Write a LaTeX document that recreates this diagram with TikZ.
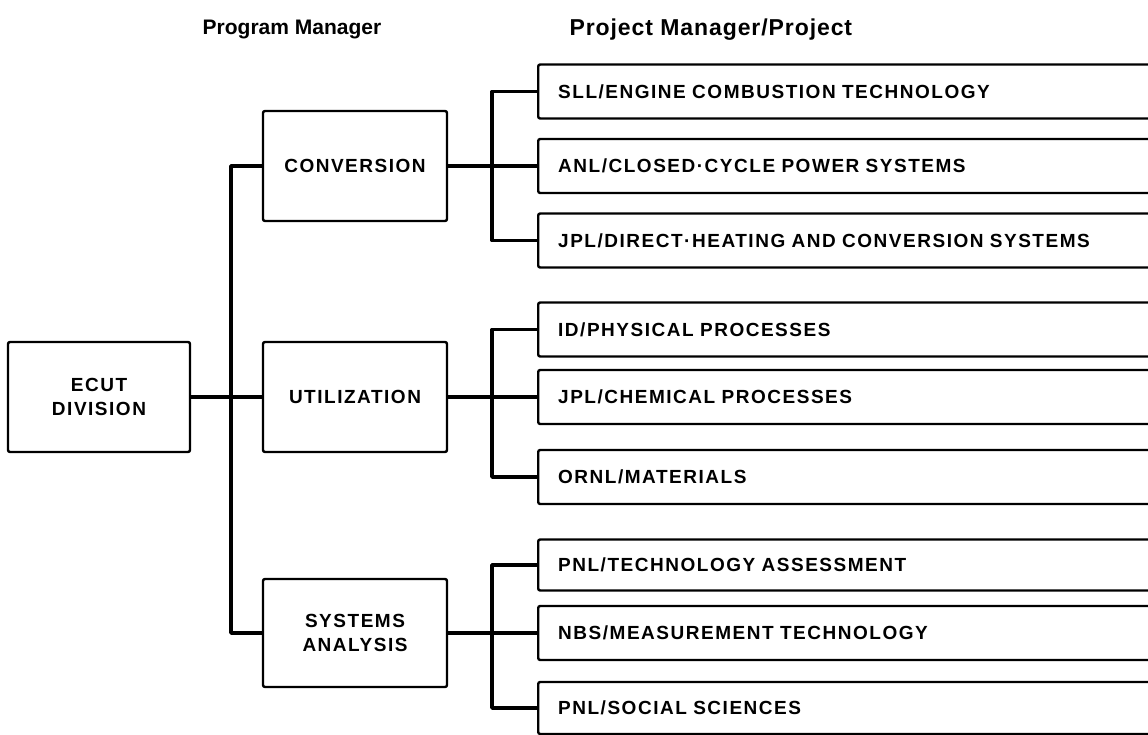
\documentclass[tikz,border=0pt]{standalone}
\usepackage{fontspec}
\setmainfont{Liberation Sans}
\newfontfamily\lblfont{Liberation Sans}[LetterSpace=8]
\newfontfamily\wideheadfont{Liberation Sans}[LetterSpace=4]
\begin{document}
\begin{tikzpicture}[x=1pt,y=-1pt,
  box/.style={draw, line width=2.4pt, rounded corners=2pt, inner sep=0pt,
    font=\lblfont\bfseries\fontsize{19}{23.5}\selectfont},
  mid/.style={box, align=center, minimum width=184pt, minimum height=110pt},
  proj/.style={box, anchor=west, minimum height=54pt, text width=660pt,
    inner xsep=20pt, align=left},
  conn/.style={line width=3.4pt, line join=round},
  head/.style={font=\bfseries\fontsize{21}{25}\selectfont}]
\useasboundingbox (0,0) rectangle (1148,735);
\clip (0,0) rectangle (1148,735);
\fill[white] (0,0) rectangle (1148,735);

% headers
\node[head] (h1) at (292,30) {Program Manager};
\node[head, anchor=west, font=\wideheadfont\bfseries\fontsize{23}{27}\selectfont] (h2) at (566,30) {Project Manager/Project};

% left and middle column
\node[mid, minimum width=182pt] (ecut) at (99,397) {ECUT\\DIVISION};
\node[mid] (conv) at (355,166) {CONVERSION};
\node[mid] (util) at (355,397) {UTILIZATION};
\node[mid, minimum height=108pt] (sysa) at (355,633) {SYSTEMS\\ANALYSIS};

% right column
\node[proj] (c1) at (537,91.5) {SLL/ENGINE COMBUSTION TECHNOLOGY};
\node[proj] (c2) at (537,166) {ANL/CLOSED·CYCLE POWER SYSTEMS};
\node[proj] (c3) at (537,240.5) {JPL/DIRECT·HEATING AND CONVERSION SYSTEMS};
\node[proj] (u1) at (537,329.5) {ID/PHYSICAL PROCESSES};
\node[proj] (u2) at (537,397) {JPL/CHEMICAL PROCESSES};
\node[proj] (u3) at (537,477) {ORNL/MATERIALS};
\node[proj, minimum height=51pt] (s1) at (537,565) {PNL/TECHNOLOGY ASSESSMENT};
\node[proj] (s2) at (537,633) {NBS/MEASUREMENT TECHNOLOGY};
\node[proj, minimum height=52pt] (s3) at (537,708) {PNL/SOCIAL SCIENCES};

% bus coordinates
\coordinate (mb) at (231,0);
\coordinate (sb) at (492,0);

% connectors
\draw[conn] (conv.west) -| (mb |- sysa.west) -- (sysa.west);
\draw[conn] (ecut.east) -- (util.west);

\draw[conn] (conv.east) -- (c2.west);
\draw[conn] (c1.west) -| (sb |- c3.west) -- (c3.west);

\draw[conn] (util.east) -- (u2.west);
\draw[conn] (u1.west) -| (sb |- u3.west) -- (u3.west);

\draw[conn] (sysa.east) -- (s2.west);
\draw[conn] (s1.west) -| (sb |- s3.west) -- (s3.west);
\end{tikzpicture}
\end{document}
